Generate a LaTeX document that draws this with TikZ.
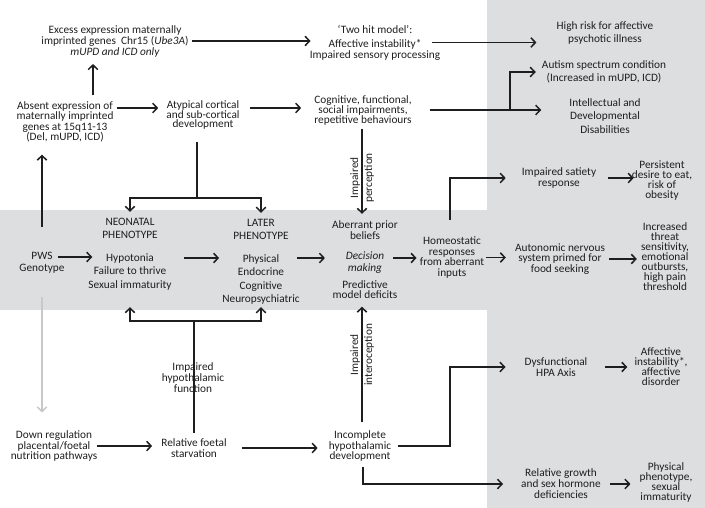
\documentclass[tikz,border=0pt]{standalone}
\usepackage{fontspec}
\setmainfont{Carlito}
\usetikzlibrary{arrows.meta}
\definecolor{bandgrey}{RGB}{221,222,224}
\definecolor{ink}{RGB}{30,30,30}
\definecolor{lightarrow}{RGB}{200,200,200}
\tikzset{
  lab/.style={align=center, inner sep=2pt, text=ink},
  t87/.style={lab, font={\fontsize{11.3}{9.8}\selectfont\lineskiplimit=-20pt}},
  t9/.style={lab, font={\fontsize{11.3}{10}\selectfont\lineskiplimit=-20pt}},
  t95/.style={lab, font={\fontsize{11.3}{10}\selectfont\lineskiplimit=-20pt}},
  t10/.style={lab, font={\fontsize{11.3}{10.5}\selectfont\lineskiplimit=-20pt}},
  t11/.style={lab, font={\fontsize{11.3}{11}\selectfont\lineskiplimit=-20pt}},
  t12/.style={lab, font={\fontsize{11.3}{12}\selectfont\lineskiplimit=-20pt}},
  t13/.style={lab, font={\fontsize{11.3}{13.2}\selectfont\lineskiplimit=-20pt}},
  t14/.style={lab, font={\fontsize{11.3}{14}\selectfont\lineskiplimit=-20pt}},
  ln/.style={draw=ink, line width=1.5pt},
  arr/.style={ln, -{Straight Barb[length=4.5pt,width=9.5pt]}},
  garr/.style={draw=lightarrow, line width=1.5pt, -{Straight Barb[length=4.5pt,width=9.5pt]}},
}
\begin{document}
\begin{tikzpicture}[x=1pt,y=-1pt]
\useasboundingbox (0,0) rectangle (705,508);
\fill[bandgrey] (487,0) rectangle (705,508);
\fill[bandgrey] (0,210) rectangle (487,310);

% nodes
\node[t11] (excess) at (115,41) {Excess expression maternally\\imprinted genes~ Chr15 (\textit{Ube3A})\\\textit{mUPD and ICD only}};
\node[t11] (twohit) at (375,42.5) {‘Two hit model’:\\[3pt]Affective instability*\\Impaired sensory processing};
\node[t13] (highrisk) at (605,33) {High risk for affective\\psychotic illness};
\node[t10] (absent) at (65,122) {Absent expression of\\maternally imprinted\\genes at 15q11-13\\(Del, mUPD, ICD)};
\node[t87] (atyp) at (203,115) {Atypical cortical\\and sub-cortical\\development};
\node[t95] (cog) at (363,110) {Cognitive, functional,\\social impairments,\\repetitive behaviours};
\node[t13] (autism) at (604,72) {Autism spectrum condition\\(Increased in mUPD, ICD)};
\node[t13] (intel) at (605,116) {Intellectual and\\Developmental\\Disabilities};
\node[t12] (pws) at (42,263) {PWS\\Genotype};
\node[t13] (neo) at (130,254) {NEONATAL\\PHENOTYPE\\[10pt]Hypotonia\\Failure to thrive\\Sexual immaturity};
\node[t13] (later) at (261,261.5) {LATER\\PHENOTYPE\\[10pt]Physical\\Endocrine\\Cognitive\\Neuropsychiatric};
\node[t10] (dec) at (365,260) {Aberrant prior\\beliefs\\[10pt]\textit{Decision}\\[1.5pt]\textit{making}\\[6pt]Predictive\\model deficits};
\node[t10] (homeo) at (452,257.5) {Homeostatic\\responses\\from aberrant\\inputs};
\node[t10] (satiety) at (559,178) {Impaired satiety\\response};
\node[t9] (persist) at (662,181) {Persistent\\desire to eat,\\risk of\\obesity};
\node[t10] (auto) at (560,259) {Autonomic nervous\\system primed for\\food seeking};
\node[t9] (incr) at (665,257) {Increased\\threat\\sensitivity,\\emotional\\outbursts,\\high pain\\threshold};
\node[t10] (down) at (54,446) {Down regulation\\placental/foetal\\nutrition pathways};
\node[t10] (starv) at (194,448) {Relative foetal\\starvation};
\node[t10] (incomp) at (360,446) {Incomplete\\hypothalamic\\development};
\node[t10] (hpa) at (556,367) {Dysfunctional\\HPA Axis};
\node[t9] (affect) at (661,366.5) {Affective\\instability*,\\affective\\disorder};
\node[t11] (growth) at (561,484) {Relative growth\\and sex hormone\\deficiencies};
\node[t9] (phys) at (666,482.5) {Physical\\phenotype,\\sexual\\immaturity};
\node[t14, rotate=90] (lperc) at (362,178) {Impaired\\perception};
\node[t14, rotate=90] (lintero) at (362,355) {Impaired\\interoception};

% helper coordinates
\coordinate (c3) at ([xshift=28pt]absent.north);
\coordinate (c4) at ([yshift=14pt]absent.east);
\coordinate (c5) at ([yshift=7pt]atyp.east);
\coordinate (j1) at (510,110);
\coordinate (j2) at (197,198);
\coordinate (c7) at ([xshift=-6pt]atyp.south);
\coordinate (c9) at ([yshift=6pt]pws.east);
\coordinate (c10) at ([yshift=-4pt]neo.east);
\coordinate (c11) at ([yshift=3.5pt]later.east);
\coordinate (c12) at ([yshift=2pt]dec.east);
\coordinate (c13) at ([xshift=-2pt]homeo.north);
\coordinate (j3) at (194,321);
\coordinate (j4) at (450,400);
\coordinate (c22) at ([xshift=3pt]incomp.south);
\coordinate (c25) at ([xshift=-1pt]cog.south);
\coordinate (c26) at ([xshift=2pt]incomp.north);

% connectors
\draw[arr, shorten <=1pt, shorten >=-3pt] (excess.east) -- (excess.east -| twohit.west);
\draw[arr, shorten <=-10pt, shorten >=18pt] (twohit.east) -- (twohit.east -| highrisk.west);
\draw[arr, shorten <=4pt, shorten >=5pt] (c3) -- (c3 |- excess.south);
\draw[arr, shorten <=1pt, shorten >=6pt] (c4) -- (c4 -| atyp.west);
\draw[arr, shorten <=8pt, shorten >=11pt] (c5) -- (c5 -| cog.west);
\draw[ln, shorten <=16pt] (cog.east) -- (j1);
\draw[arr, shorten >=4pt] (j1) |- (autism.west);
\draw[arr, shorten >=26pt] (j1) -- (j1 -| intel.west);
\draw[ln, shorten <=10pt] (c7) -- (j2);
\draw[arr, shorten >=4pt] (j2) -| (neo.north);
\draw[arr, shorten >=4pt] (j2) -| (later.north);
\draw[arr, shorten <=23pt, shorten >=10pt] (pws.north) -- (pws.north |- absent.south);
\draw[arr, shorten <=-9pt, shorten >=-6pt] (c9) -- (c9 -| neo.west);
\draw[arr, shorten <=10pt, shorten >=1pt] (c10) -- (c10 -| later.west);
\draw[arr, shorten <=-5pt, shorten >=5pt] (c11) -- (c11 -| dec.west);
\draw[arr, shorten <=-7pt, shorten >=1pt] (c12) -- (c12 -| homeo.west);
\draw[arr, shorten <=15pt, shorten >=14pt] (c13) |- (satiety.west);
\draw[arr, shorten <=10pt, shorten >=-4pt] (satiety.east) -- (satiety.east -| persist.west);
\draw[arr, shorten >=7pt] (homeo.east) -- (homeo.east -| auto.west);
\draw[arr, shorten <=2pt, shorten >=2pt] (auto.east) -- (auto.east -| incr.west);
\draw[arr, shorten <=-2pt, shorten >=7pt] (down.east) -- (down.east -| starv.west);
\draw[arr, shorten <=13pt, shorten >=9pt] (starv.east) -- (starv.east -| incomp.west);
\draw[ln, shorten <=4pt] (starv.north) -- (j3);
\draw[arr, shorten >=15pt] (j3) -| (neo.south);
\draw[arr, shorten >=1pt] (j3) -| (later.south);
\draw[garr, shorten <=21pt, shorten >=16pt] (pws.south) -- (pws.south |- down.north);
\draw[arr, shorten <=5pt, shorten >=17pt] (incomp.east) -| (j4) |- (hpa.west);
\draw[arr, shorten <=3pt, shorten >=16pt] (c22) |- (growth.west);
\draw[arr, shorten <=16pt, shorten >=5pt] (hpa.east) -- (hpa.east -| affect.west);
\draw[arr, shorten <=7pt, shorten >=7pt] (growth.east) -- (growth.east -| phys.west);
\draw[arr, shorten <=1.5pt, shorten >=5pt] (c25) -- (c25 |- dec.north);
\draw[arr, shorten <=6pt, shorten >=5.5pt] (c26) -- (c26 |- dec.south);

\node[t11] (lhypo) at (193,378) {Impaired\\hypothalamic\\function};
\end{tikzpicture}
\end{document}
